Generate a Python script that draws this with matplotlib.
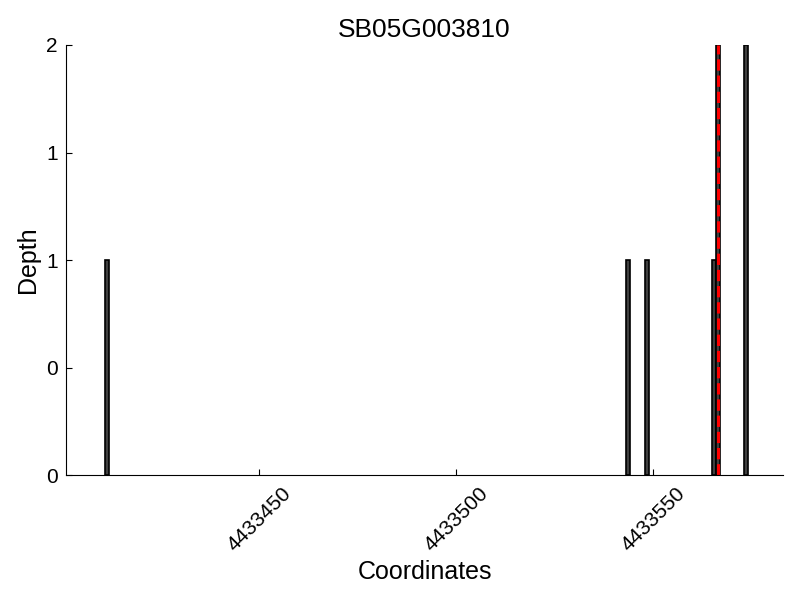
import matplotlib
matplotlib.use('Agg')
import matplotlib.pyplot as plt
from matplotlib.ticker import FormatStrFormatter

plt.rcParams['font.family'] = ['Liberation Sans', 'DejaVu Sans']

# dados
gene = 'SB05G003810'
positions = [4433411, 4433543, 4433548, 4433565, 4433566, 4433573]
depths = [1, 1, 1, 1, 2, 2]
marker_pos = 4433566.5
x_ticks = [4433450, 4433500, 4433550]
y_ticks = [0, 0.5, 1, 1.5, 2]

fig, ax = plt.subplots(figsize=(8, 6), dpi=100)
fig.subplots_adjust(left=0.0825, right=0.979, top=0.925, bottom=0.2083)

ax.bar(positions, depths, width=1, align='edge',
       color='#404040', edgecolor='black', linewidth=1.2)
ax.axvline(marker_pos, color='red', linestyle='--', linewidth=2.2)

ax.set_xlim(min(positions) - 10, max(positions) + 10)
ax.set_ylim(0, 2)
ax.set_xticks(x_ticks)
ax.set_xticklabels([str(t) for t in x_ticks])
ax.set_yticks(y_ticks)
ax.yaxis.set_major_formatter(FormatStrFormatter('%d'))

ax.spines['top'].set_visible(False)
ax.spines['right'].set_visible(False)
ax.tick_params(direction='in', length=4, labelsize=15, pad=6)
plt.setp(ax.get_xticklabels(), rotation=45)

ax.set_title(gene, fontsize=19)
ax.set_xlabel('Coordinates', fontsize=18)
ax.set_ylabel('Depth', fontsize=18)

fig.savefig('out.png', dpi=100)
